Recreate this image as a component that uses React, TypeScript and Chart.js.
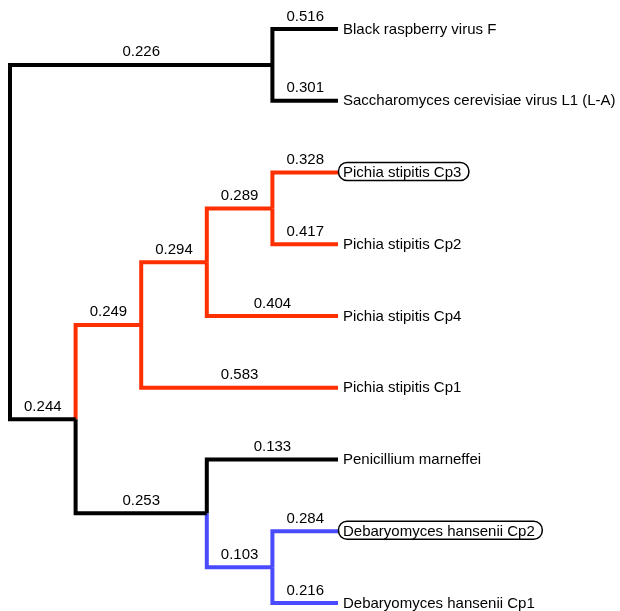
import React, { useEffect, useRef } from "react";
import { Chart, registerables } from "chart.js";

Chart.register(...registerables);

// Tree structure (node id, parent id)
const nodeIds = ["root", "A", "B", "C", "D", "E", "F", "G",
  "L0", "L1", "L2", "L3", "L4", "L5", "L6", "L7", "L8"];
const parentIds: (string | null)[] = [null, "root", "root", "B", "C", "D", "B", "F",
  "A", "A", "E", "E", "D", "C", "F", "G", "G"];
const branchLengths: (number | null)[] = [null, 0.226, 0.244, 0.249, 0.294, 0.289, 0.253, 0.103,
  0.516, 0.301, 0.328, 0.417, 0.404, 0.583, 0.133, 0.284, 0.216];
const branchColors = ["", "black", "black", "red", "red", "red", "black", "blue",
  "black", "black", "red", "red", "red", "red", "black", "blue", "blue"];
// Leaves in top-to-bottom order
const leafIds = ["L0", "L1", "L2", "L3", "L4", "L5", "L6", "L7", "L8"];
const leafLabels = [
  "Black raspberry virus F",
  "Saccharomyces cerevisiae virus L1 (L-A)",
  "Pichia stipitis Cp3",
  "Pichia stipitis Cp2",
  "Pichia stipitis Cp4",
  "Pichia stipitis Cp1",
  "Penicillium marneffei",
  "Debaryomyces hansenii Cp2",
  "Debaryomyces hansenii Cp1",
];
const leafBoxed = [false, false, true, false, false, false, false, true, false];

const COLORS: Record<string, string> = { black: "#000000", red: "#ff3000", blue: "#4a4aff" };
const FONT = "15px 'Liberation Sans', Arial, Helvetica, sans-serif";

function layout() {
  const children: Record<string, string[]> = {};
  nodeIds.forEach((id, i) => {
    const p = parentIds[i];
    if (p) (children[p] = children[p] || []).push(id);
  });
  const pos: Record<string, { x: number; y: number }> = {};
  const maxDepth = 5;
  const calc = (id: string): { x: number; y: number } => {
    if (pos[id]) return pos[id];
    const li = leafIds.indexOf(id);
    if (li >= 0) {
      pos[id] = { x: maxDepth, y: li };
    } else {
      const cs = (children[id] || []).map(calc);
      pos[id] = {
        x: Math.min(...cs.map((c) => c.x)) - 1,
        y: cs.reduce((s, c) => s + c.y, 0) / cs.length,
      };
    }
    return pos[id];
  };
  nodeIds.forEach(calc);
  return pos;
}

export default function App() {
  const ref = useRef<HTMLCanvasElement>(null);
  useEffect(() => {
    document.body.style.margin = "0";
    const pos = layout();
    const edges: { px: number; py: number; cx: number; cy: number; len: number; color: string }[] = [];
    nodeIds.forEach((id, i) => {
      const p = parentIds[i];
      if (!p) return;
      edges.push({
        px: pos[p].x, py: pos[p].y, cx: pos[id].x, cy: pos[id].y,
        len: branchLengths[i] as number, color: COLORS[branchColors[i]],
      });
    });
    // draw black first, colored after
    const order = edges.slice().sort((a, b) => (a.color === "#000000" ? 0 : 1) - (b.color === "#000000" ? 0 : 1));
    const datasets = order.map((e) => ({
      data: [{ x: e.px, y: e.py }, { x: e.px, y: e.cy }, { x: e.cx, y: e.cy }],
      showLine: true,
      borderColor: e.color,
      backgroundColor: e.color,
      borderWidth: 4,
      pointRadius: 0,
      pointHoverRadius: 0,
      tension: 0,
      fill: false,
      clip: false as any,
      borderJoinStyle: "miter" as const,
      borderCapStyle: "butt" as const,
    }));

    const labelPlugin = {
      id: "treeLabels",
      afterDatasetsDraw(chart: any) {
        const ctx = chart.ctx;
        const xs = chart.scales.x;
        const ys = chart.scales.y;
        ctx.save();
        ctx.font = FONT;
        ctx.fillStyle = "#000";
        // branch length labels
        edges.forEach((e) => {
          const x1 = xs.getPixelForValue(e.px);
          const x2 = xs.getPixelForValue(e.cx);
          const y = ys.getPixelForValue(e.cy);
          ctx.textAlign = "center";
          ctx.textBaseline = "alphabetic";
          ctx.fillText(e.len.toFixed(3), (x1 + x2) / 2, y - 8.5);
        });
        // leaf labels
        leafIds.forEach((id, i) => {
          const x = xs.getPixelForValue(pos[id].x) + 5;
          const y = ys.getPixelForValue(pos[id].y);
          ctx.textAlign = "left";
          ctx.textBaseline = "middle";
          ctx.fillText(leafLabels[i], x, y + 0.5);
          if (leafBoxed[i]) {
            const w = ctx.measureText(leafLabels[i]).width;
            const bx = x - 4.5, by = y - 10, bw = w + 12, bh = 18;
            ctx.beginPath();
            ctx.lineWidth = 1.5;
            ctx.strokeStyle = "#000";
            (ctx as any).roundRect(bx, by, bw, bh, 8.5);
            ctx.stroke();
          }
        });
        ctx.restore();
      },
    };

    const chart = new Chart(ref.current!, {
      type: "scatter",
      data: { datasets: datasets as any },
      options: {
        animation: false,
        responsive: false,
        devicePixelRatio: 1,
        layout: { padding: { left: 10, right: 282, top: 29, bottom: 8 } },
        plugins: { legend: { display: false }, tooltip: { enabled: false } },
        events: [],
        scales: {
          x: { type: "linear", min: 0, max: 5, display: false },
          y: { type: "linear", min: 0, max: 8, reverse: true, display: false },
        },
      },
      plugins: [labelPlugin],
    });
    return () => chart.destroy();
  }, []);
  return (
    <div style={{ position: "fixed", left: 0, top: 0, width: 620, height: 611, background: "#fff" }}>
      <canvas ref={ref} width={620} height={611} style={{ width: 620, height: 611 }} />
    </div>
  );
}
